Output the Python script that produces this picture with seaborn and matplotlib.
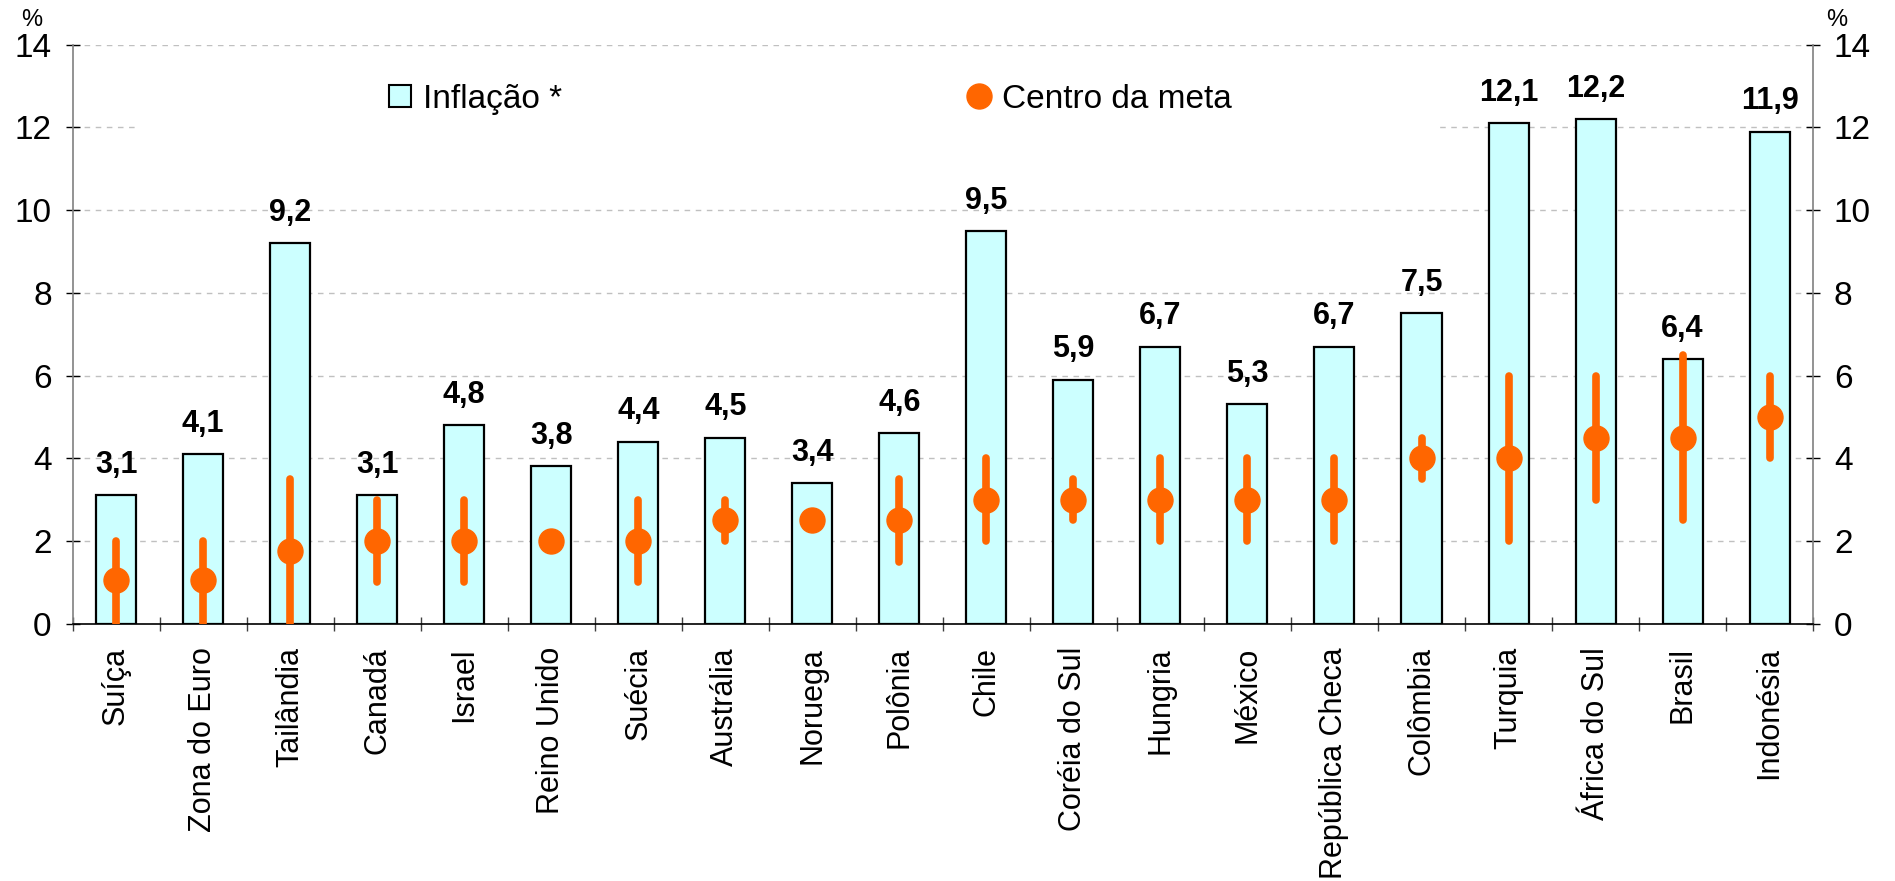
import numpy as np
import matplotlib.pyplot as plt
import matplotlib.transforms as mtransforms
import seaborn as sns
import pandas as pd
from matplotlib.patches import Patch, Rectangle
from matplotlib.lines import Line2D

# dados
paises = ['Suíça', 'Zona do Euro', 'Tailândia', 'Canadá', 'Israel', 'Reino Unido',
          'Suécia', 'Austrália', 'Noruega', 'Polônia', 'Chile', 'Coréia do Sul',
          'Hungria', 'México', 'República Checa', 'Colômbia', 'Turquia',
          'África do Sul', 'Brasil', 'Indonésia']
inflacao = [3.1, 4.1, 9.2, 3.1, 4.8, 3.8, 4.4, 4.5, 3.4, 4.6,
            9.5, 5.9, 6.7, 5.3, 6.7, 7.5, 12.1, 12.2, 6.4, 11.9]
centro_meta = [1.05, 1.05, 1.75, 2.0, 2.0, 2.0, 2.0, 2.5, 2.5, 2.5,
               3.0, 3.0, 3.0, 3.0, 3.0, 4.0, 4.0, 4.5, 4.5, 5.0]
meta_min = [0.0, 0.0, 0.0, 1.0, 1.0, 2.0, 1.0, 2.0, 2.5, 1.5,
            2.0, 2.5, 2.0, 2.0, 2.0, 3.5, 2.0, 3.0, 2.5, 4.0]
meta_max = [2.0, 2.0, 3.5, 3.0, 3.0, 2.0, 3.0, 3.0, 2.5, 3.5,
            4.0, 3.5, 4.0, 4.0, 4.0, 4.5, 6.0, 6.0, 6.5, 6.0]
yticks = [0, 2, 4, 6, 8, 10, 12, 14]

CIANO = '#CCFFFF'
LARANJA = '#FF6600'

sns.set_theme(style='white')
plt.rcParams['font.family'] = ['Liberation Sans', 'DejaVu Sans']
plt.rcParams['text.color'] = 'black'
plt.rcParams['xtick.color'] = 'black'
plt.rcParams['ytick.color'] = 'black'

df = pd.DataFrame({'pais': paises, 'inflacao': inflacao})
n = len(paises)
pos = np.arange(n)

fig = plt.figure(figsize=(18.95, 8.81), dpi=100)
ax = fig.add_axes([0.0383, 0.2922, 0.9185, 0.657])

# barras de inflação
sns.barplot(data=df, x='pais', y='inflacao', color=CIANO, saturation=1,
            edgecolor='black', linewidth=1.6, width=0.46, ax=ax, zorder=2)

# intervalos e centro da meta
lc = ax.vlines(pos, meta_min, meta_max, color=LARANJA, linewidth=5.5, zorder=3)
lc.set_capstyle('round')
ax.plot(pos, centro_meta, 'o', color=LARANJA, markersize=18, zorder=4)

# rótulos dos valores
for i, v in enumerate(inflacao):
    ax.annotate(f'{v:.1f}'.replace('.', ','), (i, v), xytext=(0, 16),
                textcoords='offset points', ha='center', va='baseline',
                fontsize=22, fontweight='bold', color='black')

# eixos
ax.set_xlim(-0.5, n - 0.5)
ax.set_ylim(0, 14)
ax.set_yticks(yticks)
ax.set_xlabel('')
ax.set_ylabel('')
ax.yaxis.grid(True, linestyle=(0, (4, 4)), color='#C0C0C0', linewidth=1)
ax.set_axisbelow(True)

ax.set_xticks(pos)
ax.set_xticklabels(paises, rotation=90, fontsize=22)
ax.set_xticks(np.arange(-0.5, n), minor=True)
ax.tick_params(axis='x', which='major', length=0, pad=17)
ax.tick_params(axis='x', which='minor', bottom=True, length=10,
               direction='inout', color='#404040', width=1)
ax.tick_params(axis='y', left=True, right=True, labelleft=True, labelright=True,
               length=10, direction='inout', color='black', width=1,
               labelsize=24, pad=10)

ax.spines['top'].set_visible(False)
for lado in ['left', 'right']:
    ax.spines[lado].set_color('#808080')
    ax.spines[lado].set_linewidth(1.2)
ax.spines['bottom'].set_color('black')
ax.spines['bottom'].set_linewidth(1.2)

# fundo branco da legenda (esconde a grade atrás dela)
trans = mtransforms.blended_transform_factory(ax.transAxes, ax.transData)
ax.add_patch(Rectangle((0.038, 11.6), 0.747, 1.6, transform=trans,
                       facecolor='white', edgecolor='none', zorder=1))

# legendas
leg1 = ax.legend(handles=[Patch(facecolor=CIANO, edgecolor='black', linewidth=1.5)],
                 labels=['Inflação *'], loc='center left',
                 bbox_to_anchor=(0.182, 0.906), frameon=False, fontsize=24,
                 borderpad=0, borderaxespad=0, handlelength=0.65,
                 handleheight=0.65, handletextpad=0.35)
ax.add_artist(leg1)
ax.legend(handles=[Line2D([], [], marker='o', linestyle='none', color=LARANJA,
                          markersize=18)],
          labels=['Centro da meta'], loc='center left',
          bbox_to_anchor=(0.514, 0.906), frameon=False, fontsize=24,
          borderpad=0, borderaxespad=0, handlelength=0.7, handletextpad=0.35)

fig.text(0.0165, 0.977, '%', fontsize=17, ha='center', va='center')
fig.text(0.969, 0.977, '%', fontsize=17, ha='center', va='center')

fig.savefig('out.png', dpi=100)
